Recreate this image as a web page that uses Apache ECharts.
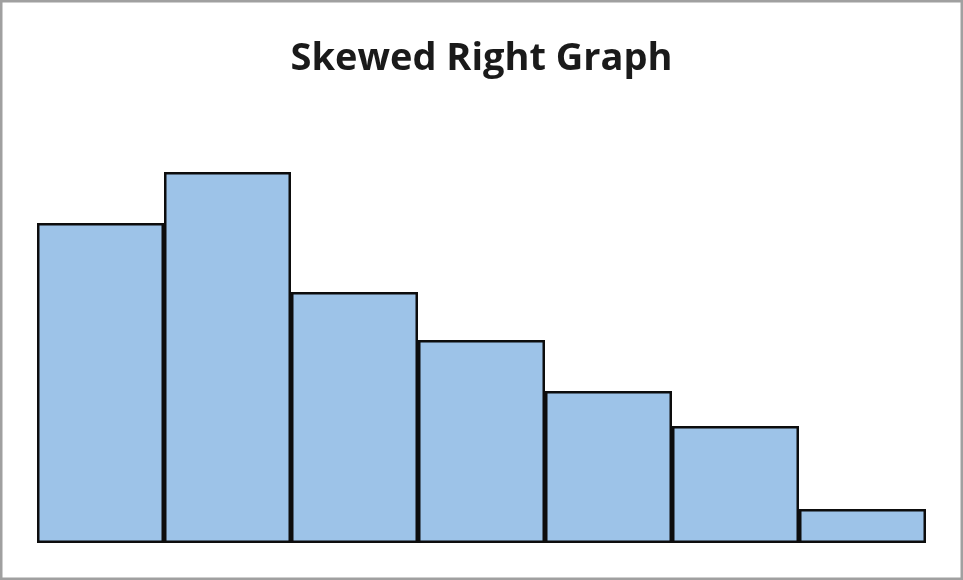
<!DOCTYPE html>
<html>
<head>
<meta charset="utf-8">
<script src="https://cdn.jsdelivr.net/npm/echarts@6/dist/echarts.min.js"></script>
<style>
html,body{margin:0;padding:0;background:#fff;}
#main{width:963px;height:580px;}
</style>
</head>
<body>
<div id="main"></div>
<script>
const titleText = "Skewed Right Graph";
const categories = ["1", "2", "3", "4", "5", "6", "7"];
const values = [320, 371, 251, 203, 152, 117, 34];
const yMax = 400;

const chart = echarts.init(document.getElementById('main'), null, {renderer: 'canvas'});
chart.setOption({
  animation: false,
  backgroundColor: '#ffffff',
  title: {
    text: titleText,
    left: 'center',
    top: 35,
    textStyle: {fontFamily: 'Open Sans', fontWeight: 'bold', fontSize: 38, color: '#1a1a1a'}
  },
  grid: {left: 37, right: 37, bottom: 37, top: 143, containLabel: false},
  xAxis: {
    type: 'category',
    data: categories,
    boundaryGap: true,
    axisLine: {show: false},
    axisTick: {show: false},
    axisLabel: {show: false},
    splitLine: {show: false}
  },
  yAxis: {
    type: 'value',
    min: 0,
    max: yMax,
    show: false,
    splitLine: {show: false}
  },
  series: [{
    type: 'bar',
    data: values,
    barCategoryGap: '0%',
    itemStyle: {color: '#9dc3e8', borderColor: '#0d0d0d', borderWidth: 2.5}
  }],
  graphic: [{
    type: 'rect',
    shape: {x: 1, y: 1, width: 961, height: 578},
    style: {fill: 'none', stroke: '#a0a0a0', lineWidth: 3},
    silent: true
  }]
});
</script>
</body>
</html>
